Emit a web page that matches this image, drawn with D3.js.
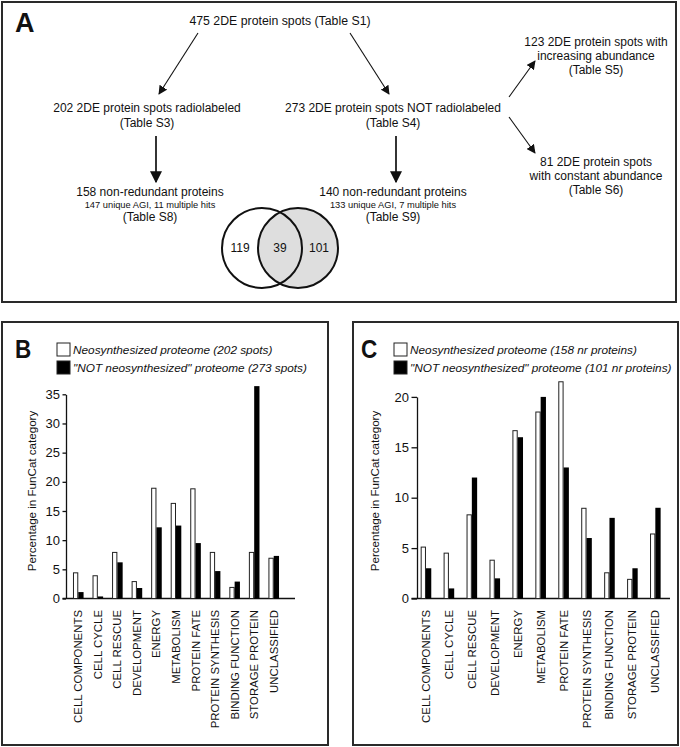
<!DOCTYPE html>
<html lang="en">
<head>
<meta charset="UTF-8">
<style>
    html, body { margin: 0; padding: 0; background: #fff; }
    svg { display: block; font-family: 'Liberation Sans', Arial, sans-serif; }
</style>
</head>
<body>
<svg id="fig" width="680" height="747"></svg>
<script src="https://d3js.org/d3.v7.min.js"></script>
<script>
// ---- data ----
const categories = ["CELL COMPONENTS", "CELL CYCLE", "CELL RESCUE", "DEVELOPMENT", "ENERGY", "METABOLISM",
    "PROTEIN FATE", "PROTEIN SYNTHESIS", "BINDING FUNCTION", "STORAGE PROTEIN", "UNCLASSIFIED"];
const neoSpotsB = [4.4, 3.9, 7.9, 2.9, 18.9, 16.3, 18.8, 7.9, 1.9, 7.9, 6.9];
const notSpotsB = [1.1, 0.35, 6.2, 1.8, 12.2, 12.5, 9.5, 4.7, 2.9, 36.4, 7.3];
const neoProtC = [5.1, 4.5, 8.3, 3.8, 16.65, 18.5, 21.5, 8.95, 2.55, 1.9, 6.4];
const notProtC = [3.0, 1.0, 12.0, 2.0, 16.0, 20.0, 13.0, 6.0, 8.0, 3.0, 9.0];
const ticksB = [0, 5, 10, 15, 20, 25, 30, 35];
const ticksC = [0, 5, 10, 15, 20];
const legendB = ["Neosynthesized proteome (202 spots)", "\"NOT neosynthesized\" proteome (273 spots)"];
const legendC = ["Neosynthesized proteome (158 nr proteins)", "\"NOT neosynthesized\" proteome (101 nr proteins)"];
const yTitle = "Percentage in FunCat category";

// flow diagram text (panel A)
const txtAll = ["475 2DE protein spots (Table S1)"];
const txtRadio = ["202 2DE protein spots radiolabeled", "(Table S3)"];
const txtNotRadio = ["273 2DE protein spots NOT radiolabeled", "(Table S4)"];
const txtIncreasing = ["123 2DE protein spots with", "increasing abundance", "(Table S5)"];
const txtConstant = ["81 2DE protein spots", "with constant abundance", "(Table S6)"];
const txtNrRadio = ["158 non-redundant proteins", "147 unique AGI, 11 multiple hits", "(Table S8)"];
const txtNrNot = ["140 non-redundant proteins", "133 unique AGI, 7 multiple hits", "(Table S9)"];
const vennCounts = [119, 39, 101];

const svg = d3.select('#fig');
const defs = svg.append('defs');
defs.append('marker').attr('id', 'headSmall')
    .attr('viewBox', '0 0 10 10').attr('refX', 9).attr('refY', 5)
    .attr('markerWidth', 9).attr('markerHeight', 9).attr('markerUnits', 'userSpaceOnUse')
    .attr('orient', 'auto')
    .append('path').attr('d', 'M0,0 L10,5 L0,10 Z').attr('fill', '#111');
defs.append('marker').attr('id', 'headBig')
    .attr('viewBox', '0 0 10 10').attr('refX', 9).attr('refY', 5)
    .attr('markerWidth', 12).attr('markerHeight', 12).attr('markerUnits', 'userSpaceOnUse')
    .attr('orient', 'auto')
    .append('path').attr('d', 'M0,0 L10,5 L0,10 Z').attr('fill', '#111');

// ---- panel frames ----
const frames = [
    {x: 2, y: 2, w: 674, h: 300, label: 'A', lx: 15, ly: 32, fs: 27, sx: 1},
    {x: 2, y: 322, w: 326, h: 423, label: 'B', lx: 15, ly: 358, fs: 25, sx: 0.9},
    {x: 353, y: 322, w: 325, h: 423, label: 'C', lx: 361, ly: 358, fs: 25, sx: 0.9}
];
svg.selectAll('rect.frame').data(frames).join('rect')
    .attr('class', 'frame')
    .attr('x', d => d.x).attr('y', d => d.y).attr('width', d => d.w).attr('height', d => d.h)
    .attr('fill', 'none').attr('stroke', '#2a2a2a').attr('stroke-width', 2);
svg.selectAll('text.panel').data(frames).join('text')
    .attr('class', 'panel')
    .attr('x', d => d.lx).attr('y', d => d.ly)
    .attr('font-size', d => d.fs).attr('font-weight', 'bold').attr('fill', '#111')
    .attr('transform', d => `translate(${d.lx},0) scale(${d.sx},1) translate(${-d.lx},0)`)
    .text(d => d.label);

// ---- panel A: flow diagram ----
const gA = svg.append('g').attr('fill', '#111');
function block(lines, cx, y0, sizes, gaps) {
    let y = y0;
    lines.forEach((t, i) => {
        gA.append('text').attr('x', cx).attr('y', y)
            .attr('text-anchor', 'middle').attr('font-size', sizes[i] || sizes[0]).text(t);
        y += gaps[i] || gaps[0];
    });
}
block(txtAll, 280, 25, [12.3], [14]);
block(txtRadio, 147, 112, [12], [14.5]);
block(txtNotRadio, 393, 112, [12], [14.5]);
block(txtIncreasing, 596, 46, [12], [14]);
block(txtConstant, 596, 166, [12], [14]);
block(txtNrRadio, 150, 196, [12, 9.3, 12], [12, 13]);
block(txtNrNot, 393, 196, [12, 9.3, 12], [12, 13]);

const thinArrows = [
    [198, 33, 159, 94], [350, 33, 389, 94],
    [509, 97, 535, 61], [509, 117, 535, 153]
];
gA.selectAll('line.thin').data(thinArrows).join('line')
    .attr('x1', d => d[0]).attr('y1', d => d[1]).attr('x2', d => d[2]).attr('y2', d => d[3])
    .attr('stroke', '#111').attr('stroke-width', 1.1).attr('marker-end', 'url(#headSmall)');
const thickArrows = [[156, 136, 156, 182], [396, 136, 396, 182]];
gA.selectAll('line.thick').data(thickArrows).join('line')
    .attr('x1', d => d[0]).attr('y1', d => d[1]).attr('x2', d => d[2]).attr('y2', d => d[3])
    .attr('stroke', '#111').attr('stroke-width', 1.7).attr('marker-end', 'url(#headBig)');

// venn
const vennY = 248, vennR = 40;
gA.append('circle').attr('cx', 298).attr('cy', vennY).attr('r', vennR)
    .attr('fill', '#dedede').attr('stroke', '#111').attr('stroke-width', 2);
gA.append('circle').attr('cx', 262).attr('cy', vennY).attr('r', vennR)
    .attr('fill', 'none').attr('stroke', '#111').attr('stroke-width', 2);
gA.selectAll('text.venn').data(vennCounts).join('text')
    .attr('class', 'venn')
    .attr('x', (d, i) => [240, 280, 319][i]).attr('y', vennY + 4)
    .attr('text-anchor', 'middle').attr('font-size', 12).text(d => d);

// ---- bar charts ----
function barChart(o) {
    const g = svg.append('g');
    const y = d3.scaleLinear().domain(o.yDomain).range([o.y0, o.y1]);
    const x = d3.scaleBand().domain(categories).range(o.xRange).padding(0);
    const barW = o.barW;
    const x1 = d3.scaleBand().domain(['neo', 'not'])
        .range([(x.step() - 2 * barW) / 2, (x.step() + 2 * barW) / 2]);

    // y axis
    const ax = g.append('g').attr('transform', `translate(${o.axisX},0)`)
        .call(d3.axisLeft(y).tickValues(o.ticks).tickSize(o.tickLen).tickPadding(2.5).tickSizeOuter(0));
    ax.select('.domain').attr('stroke', '#111').attr('stroke-width', 1.3);
    ax.selectAll('.tick line').attr('stroke', '#111').attr('stroke-width', 1.3);
    ax.selectAll('.tick text').attr('font-size', 13).attr('fill', '#111')
        .attr('font-family', "'Liberation Sans', Arial, sans-serif");

    // baseline
    g.append('line').attr('x1', o.axisX - o.tickLen).attr('x2', o.baseEnd)
        .attr('y1', y(0)).attr('y2', y(0)).attr('stroke', '#111').attr('stroke-width', 1.3);

    const rows = categories.map((c, i) => ({c, neo: o.neo[i], not: o.not[i]}));
    const grp = g.selectAll('g.grp').data(rows).join('g')
        .attr('transform', d => `translate(${x(d.c)},0)`);
    grp.append('rect')
        .attr('x', x1('neo') + 0.5).attr('width', x1.bandwidth() - 1)
        .attr('y', d => y(d.neo)).attr('height', d => y(0) - y(d.neo))
        .attr('fill', '#fff').attr('stroke', '#222').attr('stroke-width', 1);
    grp.append('rect')
        .attr('x', x1('not')).attr('width', x1.bandwidth())
        .attr('y', d => y(d.not)).attr('height', d => y(0) - y(d.not))
        .attr('fill', '#000');

    // category labels
    g.selectAll('text.cat').data(categories).join('text')
        .attr('class', 'cat')
        .attr('transform', d => `translate(${x(d) + x.step() / 2 + 4},${y(0) + 11.5}) rotate(-90)`)
        .attr('text-anchor', 'end').attr('font-size', 11.4).attr('fill', '#111')
        .text(d => d);

    // y title
    g.append('text')
        .attr('transform', `translate(${o.titleX},${o.titleY}) rotate(-90)`)
        .attr('text-anchor', 'middle').attr('font-size', 11.6).attr('fill', '#111')
        .text(yTitle);

    // legend
    const lg = g.selectAll('g.leg').data(o.legend).join('g')
        .attr('transform', (d, i) => `translate(${o.legX},${o.legY + i * 18})`);
    lg.append('rect').attr('x', 0).attr('y', -11).attr('width', 13).attr('height', 13)
        .attr('fill', (d, i) => i === 0 ? '#fff' : '#000').attr('stroke', '#222').attr('stroke-width', 1);
    lg.append('text').attr('x', 16).attr('y', 0)
        .attr('font-size', 11.8).attr('font-style', 'italic').attr('fill', '#111')
        .text(d => d);
}

barChart({
    yDomain: [0, 35], y0: 598.5, y1: 394.3, ticks: ticksB, tickLen: 3.5,
    xRange: [68.5, 283.5], barW: 5.3, axisX: 66, baseEnd: 295,
    neo: neoSpotsB, not: notSpotsB,
    titleX: 36, titleY: 491, legend: legendB, legX: 57, legY: 354
});
barChart({
    yDomain: [0, 20], y0: 598.5, y1: 396.9, ticks: ticksC, tickLen: 5.5,
    xRange: [414.5, 666.8], barW: 5.3, axisX: 417, baseEnd: 670,
    neo: neoProtC, not: notProtC,
    titleX: 379, titleY: 491, legend: legendC, legX: 394, legY: 354
});
</script>
</body>
</html>
